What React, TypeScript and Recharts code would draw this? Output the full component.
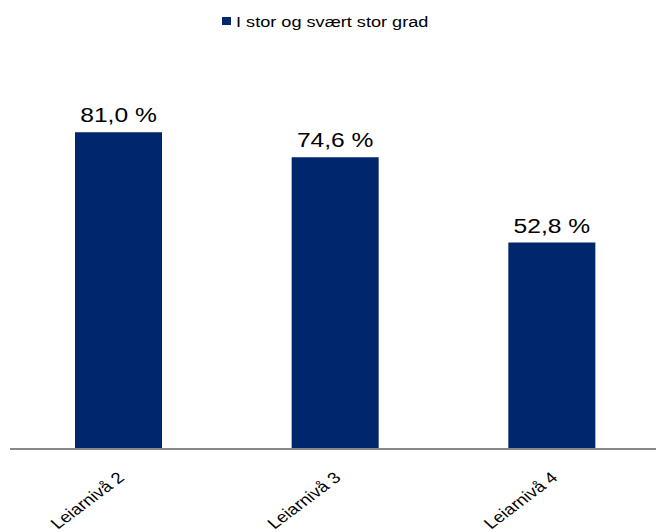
import React from "react";
import { BarChart, Bar, XAxis, YAxis, Legend, LabelList } from "recharts";

const categories = ["Leiarnivå 2", "Leiarnivå 3", "Leiarnivå 4"];
const values = [81.0, 74.6, 52.8];
const seriesName = "I stor og svært stor grad";

const data = categories.map((c, i) => ({ name: c, value: values[i] }));

const FONT = "'Liberation Sans', Arial, sans-serif";
const BAR_COLOR = "#00266E";
const STRETCH = 1.2;

const fmt = (v: number) => v.toFixed(1).replace(".", ",") + " %";

const Tick = (props: any) => {
  const { x, payload } = props;
  const ex = x + 7;
  const ey = 479;
  return (
    <g transform={`translate(${ex} ${ey}) scale(${STRETCH} 1) rotate(-42)`}>
      <text x={0} y={0} textAnchor="end" fontFamily={FONT} fontSize={15.5} fill="#000">
        {payload.value}
      </text>
    </g>
  );
};

const ValueLabel = (props: any) => {
  const { x, y, width, value } = props;
  return (
    <g transform={`translate(${x + width / 2} ${y - 10}) scale(${STRETCH} 1)`}>
      <text x={0} y={0} textAnchor="middle" fontFamily={FONT} fontSize={20.5} fill="#000">
        {fmt(value)}
      </text>
    </g>
  );
};

const LegendContent = () => (
  <svg width={656} height={30} style={{ display: "block" }}>
    <rect x={222} y={17} width={9} height={8} fill={BAR_COLOR} />
    <g transform={`translate(236 27) scale(1.17 1)`}>
      <text x={0} y={0} fontFamily={FONT} fontSize={15.5} fill="#000">
        {seriesName}
      </text>
    </g>
  </svg>
);

export default function App() {
  return (
    <div
      style={{
        position: "absolute",
        left: 0,
        top: 0,
        width: 656,
        height: 532,
        overflow: "hidden",
        background: "#fff",
      }}
    >
      <BarChart
        width={661}
        height={532}
        data={data}
        margin={{ top: 28, right: 1, bottom: 0, left: 10 }}
        barCategoryGap="30%"
      >
        <Legend
          verticalAlign="top"
          align="left"
          wrapperStyle={{ top: 0, left: 0, width: 656, height: 30, lineHeight: 0 }}
          content={<LegendContent />}
        />
        <YAxis hide domain={[0, 100]} />
        <XAxis
          dataKey="name"
          height={83}
          tickLine={false}
          axisLine={{ stroke: "#888888", strokeWidth: 2 }}
          tick={<Tick />}
          interval={0}
        />
        <Bar dataKey="value" name={seriesName} fill={BAR_COLOR} isAnimationActive={false}>
          <LabelList dataKey="value" content={<ValueLabel />} />
        </Bar>
      </BarChart>
    </div>
  );
}
